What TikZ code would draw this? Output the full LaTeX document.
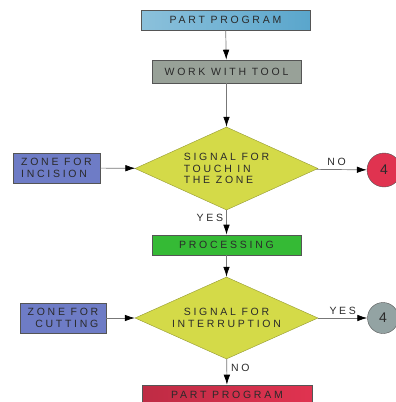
\documentclass[tikz,border=0pt]{standalone}
\usepackage{fontspec}
\setmainfont{Liberation Sans}[LetterSpace=26]
\usetikzlibrary{shapes.geometric,arrows.meta}
\definecolor{cblue}{HTML}{5AA6CC}
\definecolor{cgray}{HTML}{98A198}
\definecolor{cyel}{HTML}{D4DA48}
\definecolor{cpurple}{HTML}{6E7CC6}
\definecolor{cgreen}{HTML}{35BA35}
\definecolor{cred}{HTML}{E03350}
\definecolor{ccirc}{HTML}{93A3A3}
\definecolor{cline}{HTML}{555555}
\definecolor{ctext}{HTML}{2A2A2A}
\begin{document}
\begin{tikzpicture}[x=1pt,y=-1pt,
  font=\fontsize{10.5}{11.5}\selectfont,
  box/.style={draw=cline, line width=0.6pt, rectangle, inner sep=0pt, text=ctext, align=center},
  dia/.style={draw=cyel!70!black, line width=0.4pt, fill=cyel, diamond, inner sep=0pt, aspect=2.2, minimum width=183pt, minimum height=83pt, text=ctext, align=center},
  conn/.style={draw=cline!80, line width=0.7pt, -{Latex[black,length=10pt,width=6.5pt]}},
  lab/.style={text=ctext, inner sep=0pt}]
\useasboundingbox (0,0) rectangle (396,402);
\node[box, left color=cblue!70!white, right color=cblue, minimum width=169pt, minimum height=20pt] (pp1) at (225.5,20) {PART PROGRAM};
\node[box, fill=cgray, minimum width=149pt, minimum height=23pt] (wt) at (226.5,71.5) {WORK WITH TOOL};
\node[dia, align=left] (d1) at (226.5,168.5) {SIGNAL FOR\\TOUCH IN\\THE ZONE};
\node[box, fill=cpurple, minimum width=87pt, minimum height=30pt, align=left] (zi) at (56.5,168) {ZONE FOR\\INCISION};
\node[circle, draw=cline, fill=cred, minimum size=34pt, inner sep=0pt, text=ctext, font=\fontsize{14}{14}\selectfont] (c1) at (384,170) {4};
\node[box, fill=cgreen, minimum width=149pt, minimum height=20pt] (pr) at (226.5,245) {PROCESSING};
\node[dia, minimum height=82pt] (d2) at (226.5,318) {SIGNAL FOR\\INTERRUPTION};
\node[box, fill=cpurple, minimum width=86pt, minimum height=30pt, align=right] (zc) at (63,318) {ZONE FOR\\CUTTING};
\node[circle, draw=cline, fill=ccirc, minimum size=31pt, inner sep=0pt, text=ctext, font=\fontsize{14}{14}\selectfont] (c2) at (383,318) {4};
\node[box, left color=cred!85!black, right color=cred, minimum width=170pt, minimum height=20pt] (pp2) at (227,395) {PART PROGRAM};
\draw[conn] (pp1) -- (wt);
\draw[conn] (wt) -- (d1);
\draw[conn] (zi) -- (d1);
\draw[conn] (d1) -- node[lab, above, pos=0.4, yshift=4pt] {NO} (c1);
\draw[conn] (d1) -- node[lab, left, pos=0.3, xshift=-3pt] {YES} (pr);
\draw[conn] (pr) -- (d2);
\draw[conn] (zc) -- (d2);
\draw[conn] (d2) -- node[lab, above, pos=0.5, yshift=3pt] {YES} (c2);
\draw[conn] (d2) -- node[lab, right, pos=0.35, xshift=4pt] {NO} (pp2);
\end{tikzpicture}
\end{document}
